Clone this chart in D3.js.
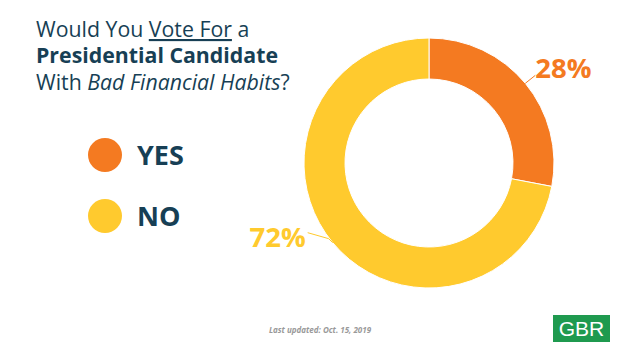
<!DOCTYPE html>
<html>
<head>
<meta charset="utf-8">
<script src="https://cdn.jsdelivr.net/npm/d3@7"></script>
<style>
  body { margin: 0; background: #fff; }
  svg { display: block; font-family: "Open Sans", sans-serif; }
</style>
</head>
<body>
<svg id="chart"></svg>
<script>
// chart data
const categories = ["YES", "NO"];
const values = [28, 72];
const colors = ["#F47A21", "#FFCA2E"];

const width = 640, height = 360;
const svg = d3.select("#chart").attr("width", width).attr("height", height);

// title
const title = svg.append("text").attr("x", 36).attr("fill", "#173f55").attr("font-size", 21.3);
title.append("tspan").attr("x", 36).attr("y", 37).text("Would You ");
title.append("tspan").attr("text-decoration", "underline").text("Vote For");
title.append("tspan").text(" a");
title.append("tspan").attr("x", 36).attr("y", 63).attr("font-weight", "bold").text("Presidential Candidate");
title.append("tspan").attr("x", 36).attr("y", 90).text("With ");
title.append("tspan").attr("font-style", "italic").text("Bad Financial Habits");
title.append("tspan").text("?");

// legend
const legend = svg.selectAll(".legend")
  .data(categories)
  .enter()
  .append("g")
  .attr("class", "legend")
  .attr("transform", (d, i) => `translate(105,${155 + i * 61})`);

legend.append("circle").attr("r", 17).attr("fill", (d, i) => colors[i]);
legend.append("text")
  .attr("x", 32).attr("y", 10)
  .attr("font-size", 27).attr("font-weight", "bold")
  .attr("fill", "#173f55")
  .text(d => d);

// donut
const cx = 429, cy = 163;
const outer = 125, inner = 84;
const pie = d3.pie().sort(null).value(d => d);
const arc = d3.arc().innerRadius(inner).outerRadius(outer);
const arcs = pie(values);

const g = svg.append("g").attr("transform", `translate(${cx},${cy})`);
g.selectAll("path")
  .data(arcs)
  .enter()
  .append("path")
  .attr("d", arc)
  .attr("fill", (d, i) => colors[i])
  .attr("stroke", "#fff")
  .attr("stroke-width", 1);

// labels with leader lines
const labelOffsets = [
  { line: [[0, 0], [10, -8]], tx: 10, ty: -5, anchor: "start" },
  { line: [[0, 0], [-4, -4], [-25, -10]], tx: -27, ty: 4, anchor: "end" }
];
arcs.forEach((a, i) => {
  const mid = (a.startAngle + a.endAngle) / 2;
  const px = Math.sin(mid) * outer, py = -Math.cos(mid) * outer;
  const o = labelOffsets[i];
  g.append("path")
    .attr("d", d3.line()(o.line.map(p => [px + p[0], py + p[1]])))
    .attr("fill", "none")
    .attr("stroke", colors[i])
    .attr("stroke-width", 1);
  g.append("text")
    .attr("x", px + o.tx).attr("y", py + o.ty)
    .attr("text-anchor", o.anchor)
    .attr("font-size", 27.5).attr("font-weight", "bold")
    .attr("fill", colors[i])
    .text(values[i] + "%");
});

// footer
svg.append("text")
  .attr("x", 320).attr("y", 333)
  .attr("text-anchor", "middle")
  .attr("font-size", 8).attr("font-style", "italic").attr("font-weight", "bold")
  .attr("fill", "#999")
  .text("Last updated: Oct. 15, 2019");

svg.append("rect").attr("x", 553).attr("y", 315).attr("width", 57).attr("height", 27).attr("fill", "#1f9a4f");
svg.append("text")
  .attr("x", 581.5).attr("y", 336)
  .attr("text-anchor", "middle")
  .attr("font-family", "Liberation Sans, Arial, sans-serif")
  .attr("font-size", 21).attr("fill", "#fff")
  .text("GBR");
</script>
</body>
</html>
